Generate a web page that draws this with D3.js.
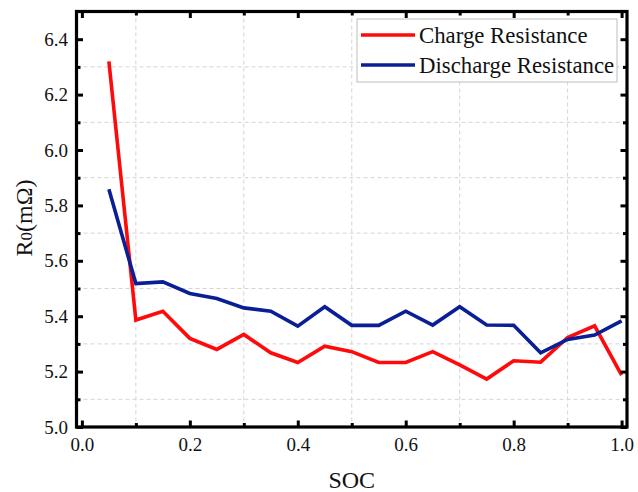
<!DOCTYPE html>
<html lang="en">
<head>
<meta charset="UTF-8">
<title>Ro vs SOC</title>
<script src="https://d3js.org/d3.v7.min.js"></script>
<style>
  body { margin: 0; background: #fff; }
  svg text { font-family: "Liberation Serif", "Times New Roman", serif; fill: #111; }
</style>
</head>
<body>
<svg id="chart" width="638" height="492"></svg>
<script>
// data
let soc = [0.05, 0.10, 0.15, 0.20, 0.25, 0.30, 0.35, 0.40, 0.45, 0.50,
           0.55, 0.60, 0.65, 0.70, 0.75, 0.80, 0.85, 0.90, 0.95, 1.00];
let chargeR = [6.32, 5.386, 5.418, 5.32, 5.28, 5.334, 5.268, 5.233, 5.292, 5.272,
               5.233, 5.233, 5.272, 5.224, 5.173, 5.239, 5.234, 5.323, 5.365, 5.187];
let dischargeR = [5.858, 5.518, 5.524, 5.482, 5.464, 5.43, 5.418, 5.364, 5.434, 5.367,
                  5.367, 5.418, 5.368, 5.434, 5.368, 5.367, 5.268, 5.316, 5.332, 5.383];
let xTicks = [0, 0.2, 0.4, 0.6, 0.8, 1.0];
let xMinor = [0.1, 0.3, 0.5, 0.7, 0.9];
let yTicks = [5.0, 5.2, 5.4, 5.6, 5.8, 6.0, 6.2, 6.4];
let yMinor = [5.1, 5.3, 5.5, 5.7, 5.9, 6.1, 6.3];
let seriesNames = ["Charge Resistance", "Discharge Resistance"];
let seriesColors = ["#ff0a0a", "#0a1e96"];

let svg = d3.select("#chart");
let padL = 76.5, padR = 627, padT = 11.5, padB = 427;

let x = d3.scaleLinear().domain([-0.01, 1.01]).range([padL, padR]);
let y = d3.scaleLinear().domain([5.0, 6.5]).range([padB, padT]);

// dashed grid at the minor ticks
let grid = svg.append("g").attr("stroke", "#d4d4d4").attr("stroke-width", 1).attr("stroke-dasharray", "4,3");
grid.selectAll(".gx").data(xMinor).enter().append("line")
    .attr("x1", d => x(d)).attr("x2", d => x(d)).attr("y1", padT).attr("y2", padB);
grid.selectAll(".gy").data(yMinor).enter().append("line")
    .attr("x1", padL).attr("x2", padR).attr("y1", d => y(d)).attr("y2", d => y(d));

// lines
let line = d3.line().x((d, i) => x(soc[i])).y(d => y(d));
[chargeR, dischargeR].forEach((vals, k) => {
    svg.append("path")
        .attr("d", line(vals))
        .attr("fill", "none")
        .attr("stroke", seriesColors[k])
        .attr("stroke-width", 3.6)
        .attr("stroke-linejoin", "miter");
});

// axes, ticks pointing inward on all four sides
let styleAxis = (g) => {
    g.select(".domain").remove();
    g.selectAll(".tick line").attr("stroke", "#000").attr("stroke-width", 3);
    g.selectAll("text").style("font-size", "19px").attr("fill", "#111");
};

svg.append("g").attr("transform", `translate(0,${padB})`)
    .call(d3.axisBottom(x).tickValues(xTicks).tickSize(-6.5).tickPadding(10.5).tickFormat(d3.format(".1f")))
    .call(styleAxis);
svg.append("g").attr("transform", `translate(0,${padB})`)
    .call(d3.axisBottom(x).tickValues(xMinor).tickSize(-4).tickFormat(""))
    .call(styleAxis);
svg.append("g").attr("transform", `translate(0,${padT})`)
    .call(d3.axisTop(x).tickValues(xTicks).tickSize(-6.5).tickFormat(""))
    .call(styleAxis);
svg.append("g").attr("transform", `translate(0,${padT})`)
    .call(d3.axisTop(x).tickValues(xMinor).tickSize(-4).tickFormat(""))
    .call(styleAxis);

svg.append("g").attr("transform", `translate(${padL},0)`)
    .call(d3.axisLeft(y).tickValues(yTicks).tickSize(-6.5).tickPadding(8.5).tickFormat(d3.format(".1f")))
    .call(styleAxis);
svg.append("g").attr("transform", `translate(${padL},0)`)
    .call(d3.axisLeft(y).tickValues(yMinor).tickSize(-4).tickFormat(""))
    .call(styleAxis);
svg.append("g").attr("transform", `translate(${padR},0)`)
    .call(d3.axisRight(y).tickValues(yTicks).tickSize(-6.5).tickFormat(""))
    .call(styleAxis);
svg.append("g").attr("transform", `translate(${padR},0)`)
    .call(d3.axisRight(y).tickValues(yMinor).tickSize(-4).tickFormat(""))
    .call(styleAxis);

// frame
svg.append("rect")
    .attr("x", padL).attr("y", padT)
    .attr("width", padR - padL).attr("height", padB - padT)
    .attr("fill", "none").attr("stroke", "#000").attr("stroke-width", 3.2);

// axis titles
svg.append("text")
    .attr("x", (padL + padR) / 2).attr("y", 488)
    .attr("text-anchor", "middle")
    .style("font-size", "24px")
    .text("SOC");

let yTitle = svg.append("text")
    .attr("transform", "translate(32,218) rotate(-90)")
    .attr("text-anchor", "middle")
    .style("font-size", "24px");
yTitle.append("tspan").text("R");
yTitle.append("tspan").style("font-size", "17px").text("0");
yTitle.append("tspan").text("(mΩ)");

// legend
let legend = svg.append("g");
legend.append("rect")
    .attr("x", 357).attr("y", 19).attr("width", 260).attr("height", 63)
    .attr("fill", "#fff").attr("stroke", "#bdbdbd").attr("stroke-width", 1);
seriesNames.forEach((name, k) => {
    let ly = 35 + k * 30;
    legend.append("line")
        .attr("x1", 361).attr("x2", 415).attr("y1", ly).attr("y2", ly)
        .attr("stroke", seriesColors[k]).attr("stroke-width", 3.6);
    legend.append("text")
        .attr("x", 419).attr("y", ly + 8)
        .style("font-size", "22.8px")
        .text(name);
});
</script>
</body>
</html>
